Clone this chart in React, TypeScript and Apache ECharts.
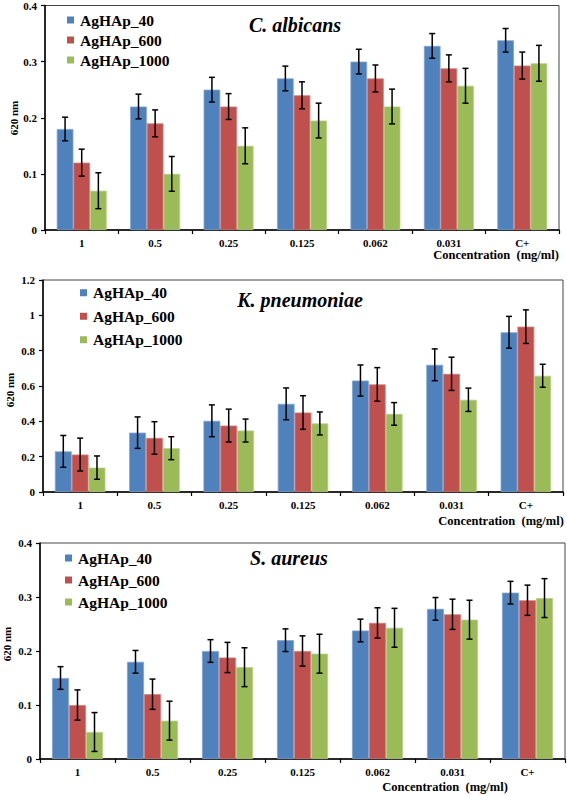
import React, { useEffect, useRef } from "react";
import * as echarts from "echarts";

const categories = ["1", "0.5", "0.25", "0.125", "0.062", "0.031", "C+"];
const seriesNames = ["AgHAp_40", "AgHAp_600", "AgHAp_1000"];
const colors = ["#4F81BD", "#C0504D", "#9BBB59"];
const edgeColors = ["#7FA3D2", "#D27E7B", "#B5CE85"];

const albicans40 = [0.18, 0.22, 0.25, 0.27, 0.3, 0.328, 0.338];
const albicans600 = [0.12, 0.19, 0.22, 0.24, 0.27, 0.288, 0.293];
const albicans1000 = [0.07, 0.1, 0.15, 0.195, 0.22, 0.257, 0.297];
const albicansErr40 = [0.021, 0.022, 0.022, 0.022, 0.022, 0.022, 0.021];
const albicansErr600 = [0.024, 0.024, 0.023, 0.024, 0.024, 0.024, 0.024];
const albicansErr1000 = [0.032, 0.031, 0.032, 0.031, 0.031, 0.031, 0.032];

const pneumoniae40 = [0.23, 0.336, 0.403, 0.499, 0.631, 0.72, 0.904];
const pneumoniae600 = [0.212, 0.306, 0.376, 0.45, 0.609, 0.669, 0.936];
const pneumoniae1000 = [0.138, 0.248, 0.348, 0.388, 0.442, 0.522, 0.658];
const pneumoniaeErr40 = [0.09, 0.089, 0.09, 0.09, 0.088, 0.09, 0.09];
const pneumoniaeErr600 = [0.093, 0.092, 0.093, 0.095, 0.095, 0.094, 0.095];
const pneumoniaeErr1000 = [0.066, 0.065, 0.065, 0.065, 0.064, 0.066, 0.065];

const aureus40 = [0.15, 0.18, 0.2, 0.22, 0.238, 0.278, 0.308];
const aureus600 = [0.1, 0.12, 0.188, 0.2, 0.252, 0.268, 0.294];
const aureus1000 = [0.05, 0.071, 0.17, 0.195, 0.243, 0.258, 0.298];
const aureusErr40 = [0.021, 0.021, 0.021, 0.021, 0.021, 0.021, 0.021];
const aureusErr600 = [0.028, 0.028, 0.028, 0.028, 0.028, 0.028, 0.028];
const aureusErr1000 = [0.036, 0.036, 0.036, 0.036, 0.036, 0.036, 0.036];

const panelTitles = ["C. albicans", "K. pneumoniae", "S. aureus"];
const yMax = [0.4, 1.2, 0.4];
const yInterval = [0.1, 0.2, 0.1];

const FONT = "Liberation Serif, Times New Roman, serif";
const CAT_GAP = 0.32;

const panels = [
  { values: [albicans40, albicans600, albicans1000], errs: [albicansErr40, albicansErr600, albicansErr1000] },
  { values: [pneumoniae40, pneumoniae600, pneumoniae1000], errs: [pneumoniaeErr40, pneumoniaeErr600, pneumoniaeErr1000] },
  { values: [aureus40, aureus600, aureus1000], errs: [aureusErr40, aureusErr600, aureusErr1000] },
];

// layout
const grids = [
  { left: 45, top: 5, width: 514, height: 225 },
  { left: 43, top: 280, width: 520, height: 212 },
  { left: 40, top: 543, width: 525, height: 216 },
];
const legendPos = [
  { left: 67, top: 10, lh: 20 },
  { left: 80, top: 281, lh: 23.5 },
  { left: 65, top: 547, lh: 22 },
];
const titlePos = [
  { x: 295, y: 25 },
  { x: 300, y: 300 },
  { x: 289, y: 558 },
];
const yNamePos = [
  { x: 14, y: 118 },
  { x: 9.5, y: 390 },
  { x: 7, y: 644 },
];
const xNamePos = [
  { x: 496, y: 255 },
  { x: 501, y: 521 },
  { x: 445, y: 787 },
];

function makeErrRender(seriesIdx: number) {
  return (params: any, api: any) => {
    const xi = api.value(0);
    const lo = api.coord([xi, api.value(1)]);
    const hi = api.coord([xi, api.value(2)]);
    const catW = api.size([1, 0])[0];
    const barW = (catW * (1 - CAT_GAP)) / 3;
    const x = lo[0] + (seriesIdx - 1) * barW;
    const cap = 3;
    const style = { stroke: "#000", lineWidth: 1.5 };
    return {
      type: "group",
      children: [
        { type: "line", shape: { x1: x, y1: lo[1], x2: x, y2: hi[1] }, style },
        { type: "line", shape: { x1: x - cap, y1: lo[1], x2: x + cap, y2: lo[1] }, style },
        { type: "line", shape: { x1: x - cap, y1: hi[1], x2: x + cap, y2: hi[1] }, style },
      ],
    };
  };
}

export default function App() {
  const ref = useRef<HTMLDivElement>(null);
  useEffect(() => {
    if (!ref.current) return;
    const chart = echarts.init(ref.current, undefined, { renderer: "svg" });
    const series: any[] = [];
    const graphic: any[] = [];
    panels.forEach((p, pi) => {
      p.values.forEach((vals, si) => {
        series.push({
          type: "bar",
          name: seriesNames[si],
          xAxisIndex: pi,
          yAxisIndex: pi,
          data: vals,
          barGap: "0%",
          barCategoryGap: CAT_GAP * 100 + "%",
          itemStyle: { color: colors[si], borderColor: edgeColors[si], borderWidth: 0.8 },
        });
      });
      p.values.forEach((vals, si) => {
        series.push({
          type: "custom",
          xAxisIndex: pi,
          yAxisIndex: pi,
          renderItem: makeErrRender(si),
          encode: { x: 0, y: [1, 2] },
          data: vals.map((v, i) => [i, v - p.errs[si][i], v + p.errs[si][i]]),
          z: 10,
          silent: true,
        });
      });
      graphic.push({
        type: "text",
        x: titlePos[pi].x,
        y: titlePos[pi].y,
        style: {
          text: panelTitles[pi],
          fontFamily: FONT,
          fontStyle: "italic",
          fontWeight: "bold",
          fontSize: 20,
          fill: "#000",
          textAlign: "center",
          textVerticalAlign: "middle",
        },
      });
      graphic.push({
        type: "text",
        x: yNamePos[pi].x,
        y: yNamePos[pi].y,
        rotation: Math.PI / 2,
        style: {
          text: "620 nm",
          fontFamily: FONT,
          fontWeight: "bold",
          fontSize: 11,
          fill: "#000",
          textAlign: "center",
          textVerticalAlign: "middle",
        },
      });
      graphic.push({
        type: "text",
        x: xNamePos[pi].x,
        y: xNamePos[pi].y,
        style: {
          text: "Concentration  (mg/ml)",
          fontFamily: FONT,
          fontWeight: "bold",
          fontSize: 12.5,
          fill: "#000",
          textAlign: "center",
          textVerticalAlign: "middle",
        },
      });
    });

    const option: any = {
      animation: false,
      backgroundColor: "#fff",
      textStyle: { fontFamily: FONT },
      grid: grids.map((g) => ({
        ...g,
        show: true,
        borderColor: "#444",
        borderWidth: 1,
        backgroundColor: "transparent",
        containLabel: false,
      })),
      legend: legendPos.map((l) => ({
        orient: "vertical",
        left: l.left,
        top: l.top,
        padding: 0,
        itemGap: 0,
        icon: "rect",
        itemWidth: 7,
        itemHeight: 7,
        data: seriesNames,
        selectedMode: false,
        itemStyle: { borderWidth: 0 },
        textStyle: {
          fontFamily: FONT,
          fontWeight: "bold",
          fontSize: 15.5,
          color: "#000",
          lineHeight: l.lh,
          padding: [0, 0, 0, 1],
        },
      })),
      xAxis: grids.map((_, i) => ({
        type: "category",
        gridIndex: i,
        data: categories,
        axisLine: { lineStyle: { color: "#000", width: 1.5 } },
        axisTick: { show: true, length: 4, lineStyle: { color: "#000", width: 1.2 } },
        axisLabel: {
          color: "#000",
          fontFamily: FONT,
          fontWeight: "bold",
          fontSize: 11,
          margin: 7,
          interval: 0,
        },
        splitLine: { show: false },
      })),
      yAxis: grids.map((_, i) => ({
        type: "value",
        gridIndex: i,
        min: 0,
        max: yMax[i],
        interval: yInterval[i],
        axisLine: { show: true, lineStyle: { color: "#000", width: 1.5 } },
        axisTick: { show: true, length: 4, lineStyle: { color: "#000", width: 1.2 } },
        axisLabel: {
          color: "#000",
          fontFamily: FONT,
          fontWeight: "bold",
          fontSize: 11,
          margin: 8,
        },
        splitLine: { show: false },
      })),
      series,
      graphic,
    };
    chart.setOption(option);
    return () => chart.dispose();
  }, []);
  return (
    <div
      ref={ref}
      style={{ position: "absolute", left: 0, top: 0, width: 567, height: 795, background: "#fff" }}
    />
  );
}
